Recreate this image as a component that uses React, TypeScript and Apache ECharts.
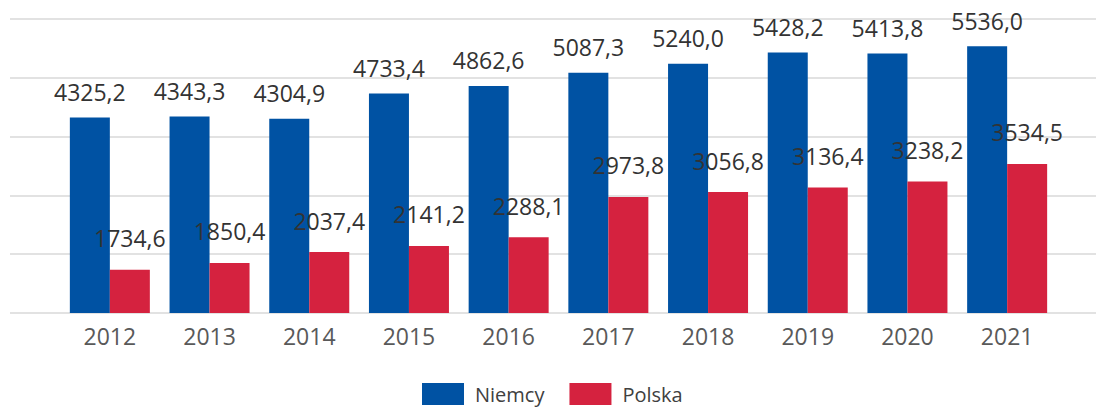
import React, { useEffect, useRef } from "react";
import * as echarts from "echarts";

const years = ["2012", "2013", "2014", "2015", "2016", "2017", "2018", "2019", "2020", "2021"];
const niemcy = [4325.2, 4343.3, 4304.9, 4733.4, 4862.6, 5087.3, 5240.0, 5428.2, 5413.8, 5536.0];
const polska = [1734.6, 1850.4, 2037.4, 2141.2, 2288.1, 2973.8, 3056.8, 3136.4, 3238.2, 3534.5];
const seriesNames = ["Niemcy", "Polska"];

const FONT = "'Open Sans', 'Noto Sans', sans-serif";
const fmt = (p: any) => Number(p.value).toFixed(1).replace(".", ",");

export default function App() {
  const ref = useRef<HTMLDivElement>(null);
  useEffect(() => {
    if (!ref.current) return;
    const chart = echarts.init(ref.current, null, { renderer: "svg" });
    chart.setOption({
      animation: false,
      backgroundColor: "#ffffff",
      textStyle: { fontFamily: FONT },
      grid: [
        { left: 10, right: 0, top: 19, bottom: 96 },
        { left: 60, right: 39, top: 19, bottom: 96 },
      ],
      xAxis: [
        { type: "category", gridIndex: 0, data: years, show: false },
        {
          type: "category",
          gridIndex: 1,
          data: years,
          axisLine: { show: false },
          axisTick: { show: false },
          axisLabel: { color: "#595959", fontSize: 23, fontFamily: FONT, margin: 11 },
        },
      ],
      yAxis: [
        {
          type: "value",
          gridIndex: 0,
          min: 1000,
          max: 6000,
          interval: 1000,
          axisLine: { show: false },
          axisTick: { show: false },
          axisLabel: { show: false },
          splitLine: { show: true, lineStyle: { color: "#d9d9d9", width: 1.5 } },
        },
        {
          type: "value",
          gridIndex: 1,
          min: 1000,
          max: 6000,
          interval: 1000,
          show: false,
          splitLine: { show: false },
        },
      ],
      legend: {
        data: seriesNames,
        left: 422,
        top: 383,
        padding: 0,
        itemWidth: 42,
        itemHeight: 22,
        itemGap: 25,
        icon: "rect",
        textStyle: { color: "#404040", fontSize: 20, fontFamily: FONT, padding: [0, 0, 0, 6] },
      },
      series: [
        {
          name: seriesNames[0],
          type: "bar",
          xAxisIndex: 1,
          yAxisIndex: 1,
          data: niemcy,
          barWidth: 40,
          barGap: "0%",
          itemStyle: { color: "#0052A3" },
          label: {
            show: true,
            position: "top",
            distance: 14,
            formatter: fmt,
            color: "#333333",
            fontSize: 23,
            fontFamily: FONT,
          },
        },
        {
          name: seriesNames[1],
          type: "bar",
          xAxisIndex: 1,
          yAxisIndex: 1,
          data: polska,
          barWidth: 40,
          barGap: "0%",
          itemStyle: { color: "#D5223F" },
          label: {
            show: true,
            position: "top",
            distance: 20,
            formatter: fmt,
            color: "#333333",
            fontSize: 23,
            fontFamily: FONT,
          },
        },
      ],
    });
    return () => chart.dispose();
  }, []);
  return (
    <div
      ref={ref}
      style={{ position: "fixed", left: 0, top: 0, width: 1096, height: 409 }}
    />
  );
}
